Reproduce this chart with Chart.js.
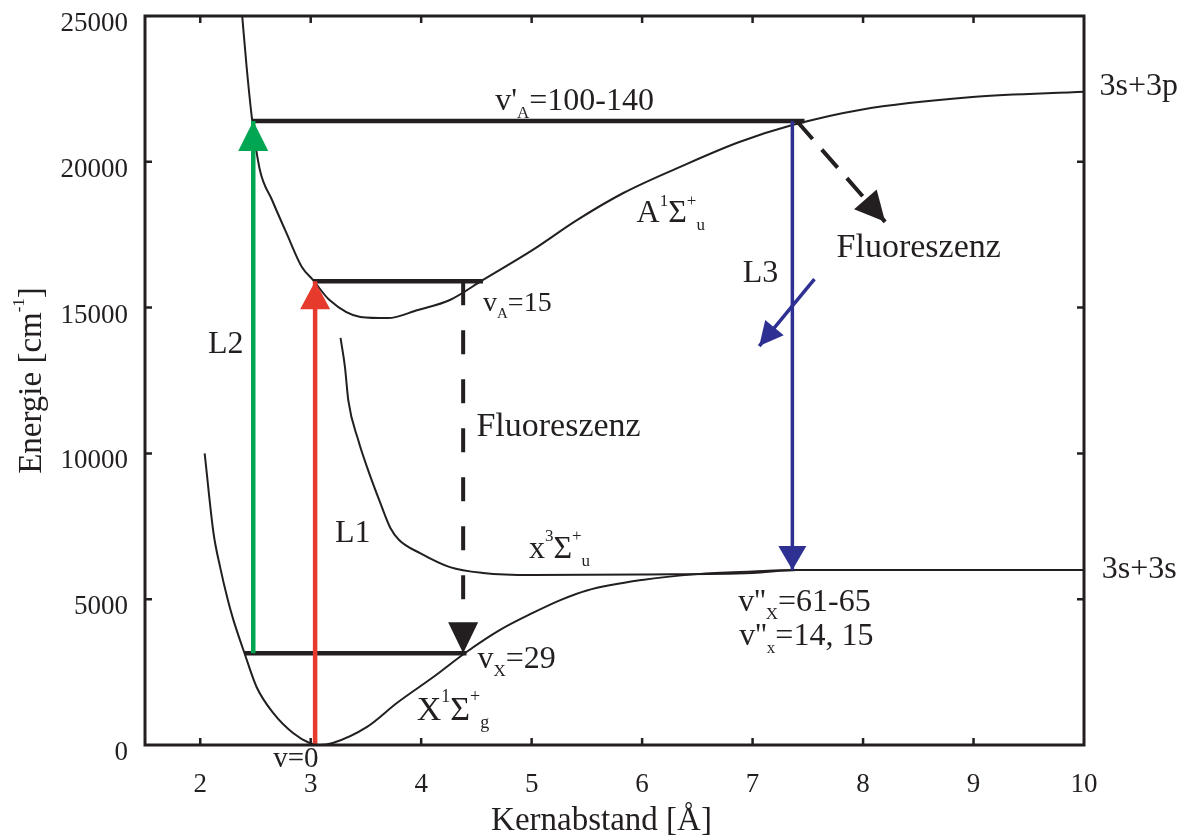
<!DOCTYPE html>
<html>
<head>
<meta charset="utf-8">
<script src="https://cdn.jsdelivr.net/npm/chart.js@4/dist/chart.umd.min.js"></script>
<style>
  html, body { margin: 0; padding: 0; background: #fff; }
  #wrap { width: 1183px; height: 837px; }
</style>
</head>
<body>
<div id="wrap"><canvas id="chartPotential"></canvas></div>
<script>
// Potentialkurven Na2: X, x(Triplett) und A, mit Laseruebergaengen L1-L3
const xTickValues = [2, 3, 4, 5, 6, 7, 8, 9, 10];
const yTickValues = [0, 5000, 10000, 15000, 20000, 25000];

// X 1Sigma g+ (Grundzustand)
const groundX = [2.04, 2.12, 2.18, 2.25, 2.30, 2.40, 2.51, 2.66, 2.84, 2.99, 3.08, 3.20, 3.51, 3.78, 4.11, 4.41, 4.71, 5.01, 5.26, 5.50, 6.00, 6.50, 7.00, 7.40, 8.50, 10.0];
const groundE = [10000, 7270, 6100, 4970, 4290, 3155, 1990, 1100, 410, 70, 0, 70, 620, 1440, 2330, 3190, 3940, 4530, 4970, 5300, 5660, 5860, 5950, 6000, 6000, 6000];

// x 3Sigma u+ (Triplett)
const tripletX = [3.27, 3.31, 3.34, 3.43, 3.51, 3.63, 3.72, 3.80, 3.99, 4.26, 4.56, 5.01, 6.00, 7.00, 7.40, 8.50, 10.0];
const tripletE = [13960, 12960, 11830, 10460, 9530, 8300, 7450, 7030, 6580, 6100, 5900, 5830, 5850, 5900, 6000, 6000, 6000];

// A 1Sigma u+
const excitedX = [2.38, 2.42, 2.47, 2.54, 2.65, 2.78, 2.92, 3.02, 3.17, 3.45, 3.70, 3.97, 4.26, 4.56, 5.01, 5.41, 5.83, 6.34, 6.88, 7.36, 7.97, 8.99, 10.0];
const excitedE = [25000, 23250, 21430, 19720, 18690, 17560, 16390, 15950, 15260, 14680, 14640, 14920, 15260, 15950, 16980, 18000, 18930, 19820, 20680, 21260, 21780, 22220, 22400];

// Vibrationsniveaus
const levelUpperX = [2.47, 7.47], levelUpperE = [21400, 21400];
const levelA15X = [3.02, 4.56], levelA15E = [15900, 15900];
const levelX29X = [2.40, 4.41], levelX29E = [3150, 3150];

// Uebergaenge (Start -> Spitze)
const l2X = [2.48, 2.48], l2E = [3150, 21400];
const l1X = [3.04, 3.04], l1E = [0, 15900];
const fluorVertX = [4.38, 4.38], fluorVertE = [15900, 3150];
const l3X = [7.36, 7.36], l3E = [21400, 6000];
const l3DiagX = [7.56, 7.06], l3DiagE = [15980, 13680];
const fluorDiagX = [7.40, 8.20], fluorDiagE = [21400, 17940];

const INK = '#231f20';
const SERIF = '"Liberation Serif", "Times New Roman", serif';

const pts = (xs, ys) => xs.map((x, i) => ({ x, y: ys[i] }));

const curve = (xs, ys) => ({ data: pts(xs, ys), borderColor: INK, borderWidth: 2, cubicInterpolationMode: 'monotone' });
const level = (xs, ys) => ({ data: pts(xs, ys), borderColor: INK, borderWidth: 4.5 });
const arrow = (xs, ys, color, w, head, dash) => ({
  data: pts(xs, ys), borderColor: color, borderWidth: w, borderDash: dash || [], arrowHead: head,
});

// Beschriftungen: Anker in Datenkoordinaten, Teile [text, art]
const annotations = [
  { x: 4.67, y: 21780, size: 32, parts: [["v'", ''], ['A', 'sub'], ['=100-140', '']] },
  { x: 10.14, y: 22290, size: 32, parts: [['3s+3p', '']] },
  { x: 5.95, y: 17930, size: 32, parts: [['A', ''], ['1', 'sup'], ['\u03A3', ''], ['+', 'sup'], ['u', 'sub']] },
  { x: 7.76, y: 16730, size: 34, parts: [['Fluoreszenz', '']] },
  { x: 6.91, y: 15880, size: 32, parts: [['L3', '']] },
  { x: 4.56, y: 14880, size: 28, parts: [['v', ''], ['A', 'sub'], ['=15', '']] },
  { x: 2.07, y: 13440, size: 32, parts: [['L2', '']] },
  { x: 4.50, y: 10600, size: 34, parts: [['Fluoreszenz', '']] },
  { x: 3.22, y: 6960, size: 32, parts: [['L1', '']] },
  { x: 4.975, y: 6410, size: 32, parts: [['x', ''], ['3', 'sup'], ['\u03A3', ''], ['+', 'sup'], ['u', 'sub']] },
  { x: 10.16, y: 5730, size: 32, parts: [['3s+3s', '']] },
  { x: 6.87, y: 4600, size: 32, parts: [["v''", ''], ['X', 'sub'], ['=61-65', '']] },
  { x: 6.88, y: 3430, size: 32, parts: [["v''", ''], ['x', 'sub'], ['=14, 15', '']] },
  { x: 4.51, y: 2640, size: 32, parts: [['v', ''], ['X', 'sub'], ['=29', '']] },
  { x: 3.96, y: 860, size: 34, parts: [['X', ''], ['1', 'sup'], ['\u03A3', ''], ['+', 'sup'], ['g', 'sub']] },
  { x: 2.66, y: -750, size: 29, parts: [['v=0', '']] },
];

function drawRich(ctx, x, y, parts, size, measureOnly) {
  let cx = x;
  for (const [t, k] of parts) {
    const s = k ? Math.round(size * 0.53) : size;
    const dy = k === 'sub' ? size * 0.24 : k === 'sup' ? -size * 0.52 : 0;
    ctx.font = `${s}px ${SERIF}`;
    if (!measureOnly) ctx.fillText(t, cx, y + dy);
    cx += ctx.measureText(t).width;
  }
  return cx - x;
}

const framePlugin = {
  id: 'frame',
  afterDatasetsDraw(chart) {
    const { ctx, chartArea: a, scales: { x, y } } = chart;
    ctx.save();
    // Pfeilspitzen
    chart.data.datasets.forEach((ds, i) => {
      if (!ds.arrowHead) return;
      const pts = chart.getDatasetMeta(i).data;
      const p0 = pts[pts.length - 2], p1 = pts[pts.length - 1];
      const ang = Math.atan2(p1.y - p0.y, p1.x - p0.x);
      const [len, wid] = ds.arrowHead;
      ctx.save();
      ctx.translate(p1.x, p1.y);
      ctx.rotate(ang);
      ctx.fillStyle = ds.borderColor;
      ctx.beginPath();
      ctx.moveTo(0, 0);
      ctx.lineTo(-len, -wid / 2);
      ctx.lineTo(-len, wid / 2);
      ctx.closePath();
      ctx.fill();
      ctx.restore();
    });
    // Rahmen + Ticks nach innen
    ctx.strokeStyle = INK;
    ctx.lineWidth = 3;
    ctx.strokeRect(a.left, a.top, a.right - a.left, a.bottom - a.top);
    ctx.lineWidth = 2.5;
    ctx.beginPath();
    xTickValues.forEach((v) => {
      const px = x.getPixelForValue(v);
      if (px >= a.right - 1) return;
      ctx.moveTo(px, a.bottom); ctx.lineTo(px, a.bottom - 7);
      ctx.moveTo(px, a.top); ctx.lineTo(px, a.top + 7);
    });
    yTickValues.forEach((v) => {
      const py = y.getPixelForValue(v);
      if (py <= a.top + 1 || py >= a.bottom - 1) return;
      ctx.moveTo(a.left, py); ctx.lineTo(a.left + 7, py);
      ctx.moveTo(a.right, py); ctx.lineTo(a.right - 7, py);
    });
    ctx.stroke();
    ctx.restore();
  },
  afterDraw(chart) {
    const { ctx, chartArea: a, scales: { x, y } } = chart;
    ctx.save();
    ctx.fillStyle = INK;
    ctx.textBaseline = 'alphabetic';
    ctx.textAlign = 'left';
    annotations.forEach((an) => {
      drawRich(ctx, x.getPixelForValue(an.x), y.getPixelForValue(an.y), an.parts, an.size);
    });
    // Achsentitel
    const xt = [['Kernabstand [\u00C5]', '']];
    const wx = drawRich(ctx, 0, 0, xt, 33, true);
    drawRich(ctx, (a.left + a.right) / 2 - 13 - wx / 2, 830, xt, 33);
    const yt = [['Energie [cm', ''], ['-1', 'sup'], [']', '']];
    const wy = drawRich(ctx, 0, 0, yt, 33, true);
    ctx.translate(41, (a.top + a.bottom) / 2);
    ctx.rotate(-Math.PI / 2);
    drawRich(ctx, -wy / 2, 0, yt, 33);
    ctx.restore();
  },
};

new Chart(document.getElementById('chartPotential'), {
  type: 'scatter',
  data: {
    datasets: [
      arrow(l2X, l2E, '#00a651', 4.5, [30, 30]),
      arrow(l1X, l1E, '#e63a2c', 4.5, [28, 30]),
      arrow(fluorVertX, fluorVertE, INK, 4, [31, 30], [24, 25]),
      arrow(l3X, l3E, '#2e3192', 3.5, [24, 28]),
      arrow(l3DiagX, l3DiagE, '#2e3192', 3.5, [24, 24]),
      arrow(fluorDiagX, fluorDiagE, INK, 4, [30, 30], [24, 14]),
      level(levelUpperX, levelUpperE),
      level(levelA15X, levelA15E),
      level(levelX29X, levelX29E),
      curve(groundX, groundE),
      curve(tripletX, tripletE),
      curve(excitedX, excitedE),
    ].map((ds) => ({ showLine: true, pointRadius: 0, pointHoverRadius: 0, fill: false, borderCapStyle: 'butt', ...ds })),
  },
  options: {
    responsive: true,
    maintainAspectRatio: false,
    animation: false,
    events: [],
    layout: { autoPadding: false, padding: { left: 0, top: 16, right: 99, bottom: 0 } },
    plugins: { legend: { display: false }, tooltip: { enabled: false } },
    scales: {
      x: {
        type: 'linear', min: 1.5, max: 10,
        afterBuildTicks: (s) => { s.ticks = xTickValues.map((v) => ({ value: v })); },
        afterFit: (s) => { s.height = 92; s.paddingLeft = 0; s.paddingRight = 0; },
        grid: { display: false, drawTicks: false },
        border: { display: false },
        ticks: { color: INK, padding: 24, font: { family: SERIF, size: 27 } },
      },
      y: {
        type: 'linear', min: 0, max: 25000,
        afterBuildTicks: (s) => { s.ticks = yTickValues.map((v) => ({ value: v })); },
        afterFit: (s) => { s.width = 145; s.paddingTop = 0; s.paddingBottom = 0; },
        grid: { display: false, drawTicks: false },
        border: { display: false },
        ticks: { color: INK, padding: 17, labelOffset: 8, font: { family: SERIF, size: 27 }, callback: (v) => String(v) },
      },
    },
  },
  plugins: [framePlugin],
});
</script>
</body>
</html>
